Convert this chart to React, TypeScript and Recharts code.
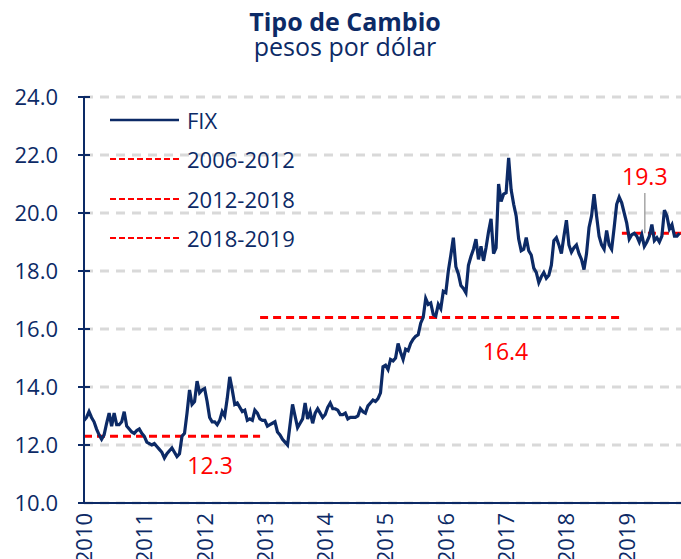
import React from "react";
import {
  LineChart,
  Line,
  XAxis,
  YAxis,
  CartesianGrid,
  ReferenceLine,
  ReferenceDot,
} from "recharts";

// Semi-monthly readings of the FIX rate (1st and 16th of each month)
const fix2010 = [12.85, 12.95, 13.15, 12.95, 12.8, 12.55, 12.35, 12.2, 12.35, 12.75, 13.1, 12.65, 13.1, 12.7, 12.7, 12.8, 13.15, 12.65, 12.55, 12.45, 12.4, 12.5, 12.55, 12.4];
const fix2011 = [12.3, 12.1, 12.05, 12.0, 12.05, 11.95, 11.85, 11.75, 11.55, 11.7, 11.8, 11.9, 11.75, 11.6, 11.7, 12.3, 12.4, 13.1, 13.9, 13.4, 13.5, 14.2, 13.8, 13.9];
const fix2012 = [13.95, 13.5, 12.95, 12.8, 12.8, 12.7, 12.85, 13.15, 13.0, 13.6, 14.35, 13.9, 13.4, 13.45, 13.3, 13.15, 13.2, 12.85, 12.9, 12.85, 13.2, 13.1, 12.9, 12.85];
const fix2013 = [12.85, 12.65, 12.7, 12.75, 12.8, 12.45, 12.35, 12.2, 12.1, 12.0, 12.7, 13.4, 13.0, 12.6, 12.75, 12.9, 13.45, 12.9, 13.15, 12.75, 13.1, 13.25, 13.1, 12.95];
const fix2014 = [13.05, 13.3, 13.45, 13.25, 13.25, 13.2, 13.05, 13.05, 13.1, 12.9, 12.95, 12.95, 12.95, 13.0, 13.25, 13.15, 13.1, 13.35, 13.45, 13.55, 13.5, 13.6, 13.8, 14.7];
const fix2015 = [14.75, 14.6, 14.95, 14.9, 15.0, 15.5, 15.2, 14.95, 15.3, 15.25, 15.5, 15.65, 15.75, 15.8, 16.2, 16.4, 17.05, 16.85, 16.9, 16.5, 16.45, 16.85, 16.7, 17.3];
const fix2016 = [17.25, 18.0, 18.55, 19.15, 18.15, 17.9, 17.5, 17.4, 17.25, 18.2, 18.5, 18.75, 19.1, 18.4, 18.85, 18.35, 18.8, 19.35, 19.8, 18.6, 18.8, 21.0, 20.4, 20.65];
const fix2017 = [20.7, 21.9, 20.8, 20.3, 19.9, 19.1, 18.7, 18.75, 19.15, 18.7, 18.55, 18.1, 17.95, 17.6, 17.8, 17.95, 17.75, 17.85, 18.2, 19.05, 19.15, 18.9, 18.6, 19.2];
const fix2018 = [19.75, 18.9, 18.65, 18.8, 18.9, 18.6, 18.4, 18.05, 18.6, 19.5, 19.9, 20.65, 19.9, 19.2, 18.9, 18.75, 19.4, 18.9, 18.75, 19.5, 20.3, 20.55, 20.35, 20.0];
const fix2019 = [19.65, 19.1, 19.25, 19.3, 19.2, 19.0, 19.25, 18.85, 19.0, 19.2, 19.6, 19.05, 19.15, 19.0, 19.2, 20.1, 19.9, 19.45, 19.6, 19.2, 19.2, 19.3];

const years = [2010, 2011, 2012, 2013, 2014, 2015, 2016, 2017, 2018, 2019];
const fixByYear = [fix2010, fix2011, fix2012, fix2013, fix2014, fix2015, fix2016, fix2017, fix2018, fix2019];

const yTicks = [10, 12, 14, 16, 18, 20, 22, 24];
const xTicks = years;

// Period averages
const avgPeriods = [
  { name: "2006-2012", start: 2010, end: 2012.92, value: 12.3 },
  { name: "2012-2018", start: 2012.92, end: 2018.92, value: 16.4 },
  { name: "2018-2019", start: 2018.92, end: 2019.9, value: 19.3 },
];
const avgLabels = [
  { t: 2012.09, y: 11.28, text: "12.3" },
  { t: 2016.99, y: 15.2, text: "16.4" },
  { t: 2019.3, y: 21.24, text: "19.3" },
];

const data = fixByYear.flatMap((arr, i) =>
  arr.map((v, k) => ({ t: years[i] + k / 24, v }))
);

const NAVY = "#0c2a66";
const RED = "#ff0000";
const FONT = "'Open Sans', sans-serif";

const YTick = (props: any) => {
  const { x, y, payload } = props;
  const axisX = x + 20 + 6;
  return (
    <g>
      <line x1={axisX - 6} x2={axisX + 6} y1={y} y2={y} stroke={NAVY} strokeWidth={2} />
      <text x={x} y={y} dy="0.36em" textAnchor="end" fill={NAVY} fontSize={22} fontFamily={FONT}>
        {Number(payload.value).toFixed(1)}
      </text>
    </g>
  );
};

const XTick = (props: any) => {
  const { x, y, payload } = props;
  return (
    <text
      x={x}
      y={y}
      dy="0.36em"
      textAnchor="end"
      transform={`rotate(-90, ${x}, ${y})`}
      fill={NAVY}
      fontSize={22}
      fontFamily={FONT}
    >
      {payload.value}
    </text>
  );
};

const LegendBox = () => {
  const rows = [
    { name: "FIX", color: NAVY, dash: undefined as string | undefined, w: 2.5 },
    ...avgPeriods.map((p) => ({ name: p.name, color: RED, dash: "6 3", w: 2 })),
  ];
  return (
    <div
      style={{
        position: "absolute",
        left: 110,
        top: 100,
        fontFamily: FONT,
        color: NAVY,
        fontSize: 22,
        lineHeight: "40px",
      }}
    >
      {rows.map((r) => (
        <div key={r.name} style={{ display: "flex", alignItems: "center", height: 39.5 }}>
          <svg width={77} height={10}>
            <line x1={0} x2={69} y1={5} y2={5} stroke={r.color} strokeWidth={r.w} strokeDasharray={r.dash} />
          </svg>
          <span>{r.name}</span>
        </div>
      ))}
    </div>
  );
};

const AvgLabel = (text: string) => (props: any) => {
  const { viewBox } = props;
  const cx = viewBox.x + (viewBox.width || 0) / 2;
  const cy = viewBox.y + (viewBox.height || 0) / 2;
  return (
    <text x={cx} y={cy} dy="0.36em" textAnchor="middle" fill={RED} fontSize={23} fontFamily={FONT}>
      {text}
    </text>
  );
};

export default function App() {
  return (
    <div style={{ position: "absolute", left: 0, top: 0, width: 681, height: 559, background: "#fff", overflow: "hidden" }}>
      <LineChart
        width={681}
        height={559}
        data={data}
        margin={{ top: 97, right: 0, bottom: 0, left: 0 }}
        style={{ position: "absolute", left: 0, top: 0 }}
      >
        <CartesianGrid
          horizontal
          vertical={false}
          stroke="#d9d9d9"
          strokeWidth={3}
          strokeDasharray="9 7"
        />
        <XAxis
          dataKey="t"
          type="number"
          domain={[2010, 2019.9]}
          ticks={xTicks}
          allowDataOverflow
          height={56}
          tickLine={false}
          axisLine={{ stroke: NAVY, strokeWidth: 2 }}
          tick={<XTick />}
          tickMargin={4}
          interval={0}
        />
        <YAxis
          type="number"
          domain={[10, 24]}
          ticks={yTicks}
          width={84}
          tickLine={false}
          tickSize={6}
          tickMargin={20}
          axisLine={{ stroke: NAVY, strokeWidth: 2 }}
          tick={<YTick />}
          interval={0}
        />
        {avgPeriods.map((p) => (
          <ReferenceLine
            key={p.name}
            segment={[
              { x: p.start, y: p.value },
              { x: p.end, y: p.value },
            ]}
            stroke={RED}
            strokeWidth={3}
            strokeDasharray="8 5"
            ifOverflow="visible"
          />
        ))}
        <ReferenceLine
          segment={[
            { x: 2019.3, y: 20.69 },
            { x: 2019.3, y: 19.3 },
          ]}
          stroke="#a6a6a6"
          strokeWidth={1.5}
          ifOverflow="visible"
        />
        <Line
          type="linear"
          dataKey="v"
          stroke={NAVY}
          strokeWidth={3.2}
          dot={false}
          isAnimationActive={false}
        />
        {avgLabels.map((l) => (
          <ReferenceDot
            key={l.text}
            x={l.t}
            y={l.y}
            r={0}
            fill="none"
            stroke="none"
            ifOverflow="visible"
            label={AvgLabel(l.text)}
          />
        ))}
      </LineChart>
      <div
        style={{
          position: "absolute",
          left: 0,
          top: 8.5,
          width: 690,
          textAlign: "center",
          fontFamily: FONT,
          color: NAVY,
          fontWeight: 700,
          fontSize: 25,
          lineHeight: "25px",
        }}
      >
        Tipo de Cambio
      </div>
      <div
        style={{
          position: "absolute",
          left: 0,
          top: 34,
          width: 690,
          textAlign: "center",
          fontFamily: FONT,
          color: NAVY,
          fontSize: 25,
          lineHeight: "25px",
        }}
      >
        pesos por dólar
      </div>
      <LegendBox />
    </div>
  );
}
